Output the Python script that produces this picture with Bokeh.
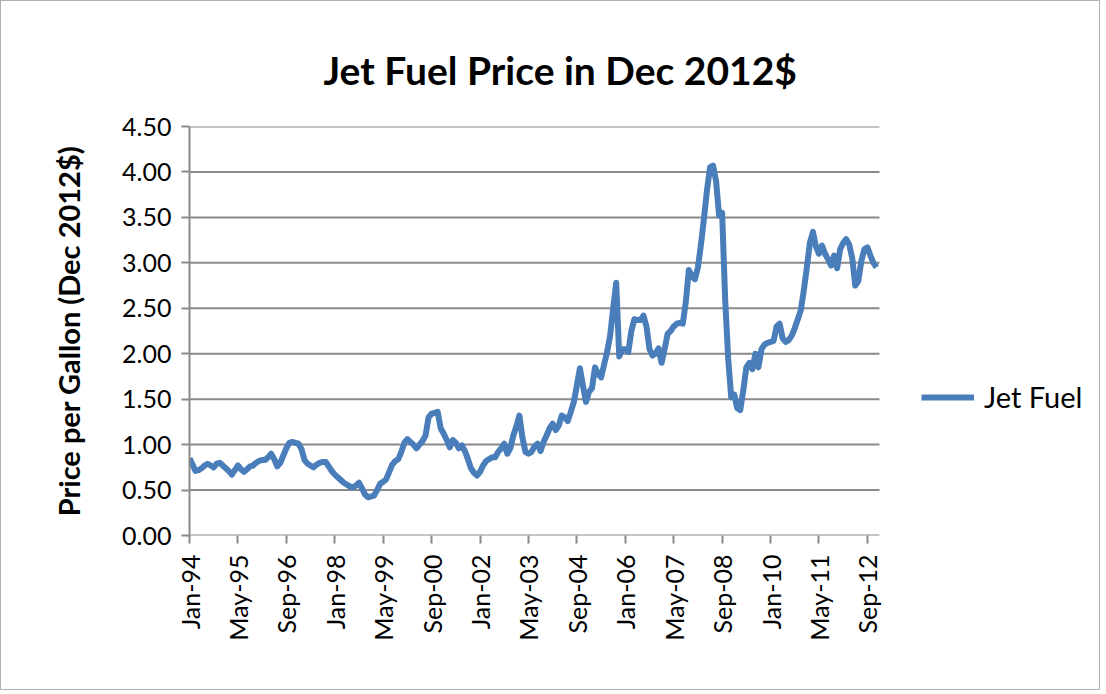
import numpy as np
from bokeh.plotting import figure
from bokeh.models import Range1d, FixedTicker, Legend, LegendItem, Title
from bokeh.embed import file_html
from bokeh.resources import INLINE

# Monthly jet fuel price, Dec 2012 dollars, Jan-1994 .. Dec-2012
y1994 = [0.85, 0.78, 0.71, 0.72, 0.74, 0.77, 0.79, 0.77, 0.75, 0.79, 0.80, 0.77]
y1995 = [0.74, 0.71, 0.67, 0.72, 0.77, 0.73, 0.70, 0.73, 0.76, 0.77, 0.80, 0.82]
y1996 = [0.83, 0.83, 0.86, 0.90, 0.84, 0.76, 0.80, 0.88, 0.96, 1.02, 1.03, 1.02]
y1997 = [1.01, 0.95, 0.83, 0.79, 0.77, 0.75, 0.78, 0.80, 0.81, 0.81, 0.76, 0.71]
y1998 = [0.67, 0.64, 0.61, 0.58, 0.56, 0.54, 0.53, 0.55, 0.58, 0.52, 0.45, 0.42]
y1999 = [0.43, 0.44, 0.50, 0.57, 0.59, 0.62, 0.70, 0.78, 0.82, 0.84, 0.92, 1.02]
y2000 = [1.06, 1.03, 1.00, 0.96, 1.00, 1.04, 1.10, 1.30, 1.34, 1.35, 1.36, 1.18]
y2001 = [1.12, 1.05, 0.97, 1.05, 1.02, 0.96, 0.99, 0.93, 0.84, 0.74, 0.69, 0.66]
y2002 = [0.70, 0.77, 0.82, 0.84, 0.86, 0.86, 0.92, 0.96, 1.01, 0.90, 0.96, 1.10]
y2003 = [1.20, 1.32, 1.08, 0.92, 0.90, 0.92, 0.98, 1.01, 0.93, 1.03, 1.10, 1.18]
y2004 = [1.23, 1.16, 1.21, 1.32, 1.30, 1.26, 1.36, 1.47, 1.65, 1.84, 1.65, 1.47]
y2005 = [1.58, 1.62, 1.85, 1.78, 1.74, 1.88, 2.02, 2.20, 2.50, 2.78, 1.97, 2.05]
y2006 = [2.05, 2.02, 2.25, 2.38, 2.37, 2.37, 2.42, 2.30, 2.05, 1.98, 2.00, 2.06]
y2007 = [1.90, 2.05, 2.22, 2.25, 2.30, 2.33, 2.34, 2.33, 2.57, 2.92, 2.85, 2.82]
y2008 = [2.95, 3.20, 3.49, 3.80, 4.05, 4.07, 3.90, 3.52, 3.55, 2.60, 1.95, 1.52]
y2009 = [1.55, 1.40, 1.38, 1.60, 1.85, 1.90, 1.83, 2.00, 1.85, 2.05, 2.10, 2.12]
y2010 = [2.13, 2.14, 2.30, 2.33, 2.17, 2.13, 2.15, 2.20, 2.28, 2.38, 2.48, 2.70]
y2011 = [2.95, 3.22, 3.34, 3.18, 3.10, 3.19, 3.10, 3.04, 2.97, 3.08, 2.94, 3.15]
y2012 = [3.22, 3.26, 3.20, 3.05, 2.75, 2.80, 3.02, 3.15, 3.17, 3.08, 3.00, 2.95]

prices = (y1994 + y1995 + y1996 + y1997 + y1998 + y1999 + y2000 + y2001 + y2002 +
          y2003 + y2004 + y2005 + y2006 + y2007 + y2008 + y2009 + y2010 + y2011 + y2012)
months = list(range(len(prices)))
n_months = 228  # axis spans Jan-94 .. end of Dec-12

tick_labels = ["Jan-94", "May-95", "Sep-96", "Jan-98", "May-99", "Sep-00", "Jan-02",
               "May-03", "Sep-04", "Jan-06", "May-07", "Sep-08", "Jan-10", "May-11", "Sep-12"]
tick_positions = [16 * i for i in range(len(tick_labels))]
y_ticks = [0, 0.5, 1.0, 1.5, 2.0, 2.5, 3.0, 3.5, 4.0, 4.5]

FONT = "Lato"
GRID = "#8a8a8a"

W, H = 1100, 690
LEFT, TOP, BOTTOM, RIGHT = 188, 125, 156, 5
DATA_PX = 690                       # pixel width of the plotted date axis
FRAME_PX = W - LEFT - RIGHT         # frame also holds the legend on its right
x_end = n_months * FRAME_PX / DATA_PX

p = figure(width=W, height=H, output_backend="svg", toolbar_location=None,
           x_range=Range1d(0, x_end), y_range=Range1d(0, 4.5),
           min_border_left=LEFT, min_border_right=RIGHT, min_border_top=TOP, min_border_bottom=BOTTOM)
p.styles = {"border": "1px solid #b0b0b0"}

title = Title(text="Jet Fuel Price in Dec 2012$", text_font=FONT, text_font_size="39px",
              text_font_style="bold", align="left", offset=134, standoff=68, text_color="black")
p.add_layout(title, "above")

# horizontal gridlines limited to the date axis span
p.segment(x0=[0] * len(y_ticks), x1=[n_months] * len(y_ticks), y0=y_ticks, y1=y_ticks,
          line_color=GRID, line_width=2)

r = p.line(months, prices, line_color="#4A7EBB", line_width=6, line_join="round")

p.outline_line_color = None
p.background_fill_color = "white"
p.border_fill_color = "white"
p.xgrid.grid_line_color = None
p.ygrid.grid_line_color = None

p.xaxis.ticker = FixedTicker(ticks=tick_positions)
p.xaxis.major_label_overrides = {pos: lab for pos, lab in zip(tick_positions, tick_labels)}
p.xaxis.major_label_orientation = np.pi / 2
p.xaxis.major_label_text_font = FONT
p.xaxis.major_label_text_font_size = "25px"
p.xaxis.major_label_text_color = "black"
p.xaxis.major_label_standoff = 11
p.xaxis.axis_line_color = None
p.xaxis.major_tick_line_color = GRID
p.xaxis.major_tick_line_width = 2
p.xaxis.major_tick_in = 0
p.xaxis.major_tick_out = 8
p.xaxis.minor_tick_line_color = None

p.yaxis.ticker = FixedTicker(ticks=y_ticks)
p.yaxis.major_label_overrides = {t: f"{t:.2f}" for t in y_ticks}
p.yaxis.major_label_text_font = FONT
p.yaxis.major_label_text_font_size = "25px"
p.yaxis.major_label_text_color = "black"
p.yaxis.major_label_standoff = 10
p.yaxis.axis_line_color = GRID
p.yaxis.axis_line_width = 2
p.yaxis.major_tick_line_color = GRID
p.yaxis.major_tick_line_width = 2
p.yaxis.major_tick_in = 0
p.yaxis.major_tick_out = 8
p.yaxis.minor_tick_line_color = None
p.yaxis.axis_label = "Price per Gallon (Dec 2012$)"
p.yaxis.axis_label_text_font = FONT
p.yaxis.axis_label_text_font_size = "29px"
p.yaxis.axis_label_text_font_style = "bold"
p.yaxis.axis_label_text_color = "black"
p.yaxis.axis_label_standoff = 33

legend = Legend(items=[LegendItem(label="Jet Fuel", renderers=[r])],
                location=(732, 121), border_line_color=None, background_fill_alpha=0,
                label_text_font=FONT, label_text_font_size="29px", label_text_color="black",
                glyph_width=53, label_standoff=10, padding=10, margin=0)
p.add_layout(legend, "center")

open("out.html", "w").write(file_html(p, INLINE))
